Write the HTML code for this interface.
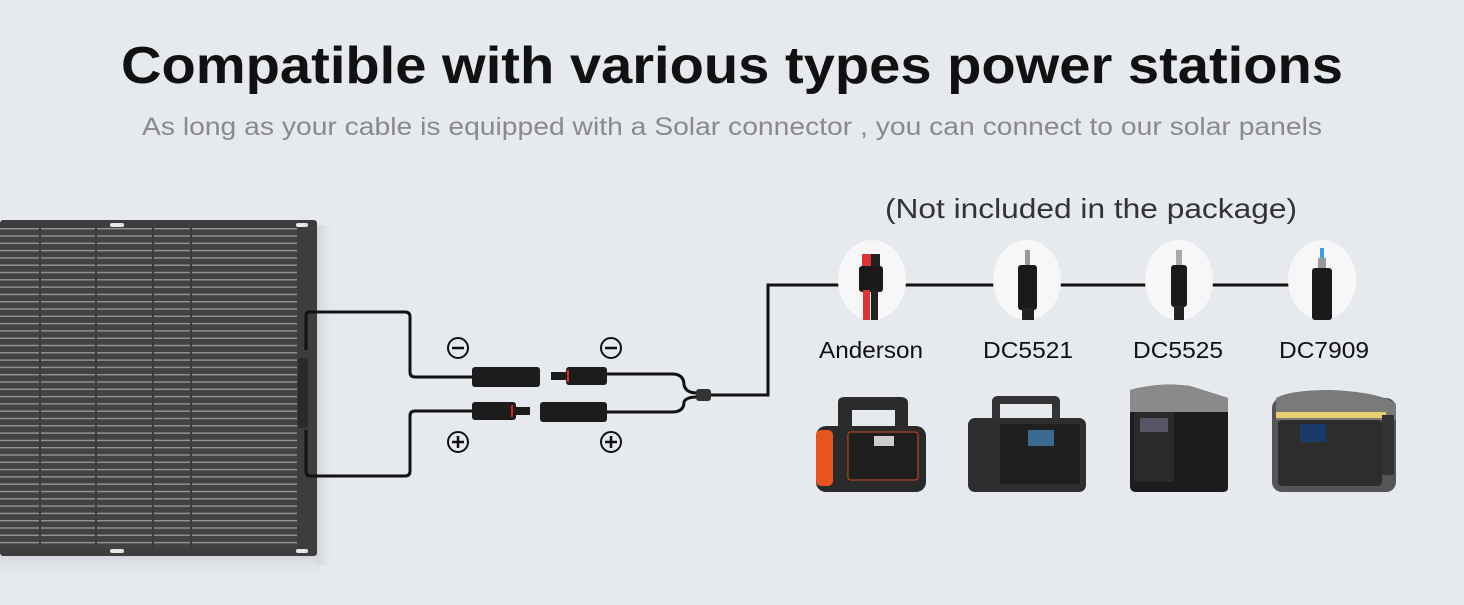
<!DOCTYPE html>
<html><head><meta charset="utf-8"><style>
body{margin:0;width:1464px;height:600px;background:#e6e9ee;overflow:hidden;font-family:"Liberation Sans",sans-serif}
</style></head><body>
<svg width="1464" height="600" viewBox="0 0 1464 600" xmlns="http://www.w3.org/2000/svg">
<defs>
<pattern id="st" x="0" y="228" width="10" height="7.3" patternUnits="userSpaceOnUse">
<rect width="10" height="7.3" fill="#424242"/><rect y="0" width="10" height="1.4" fill="#959595"/>
</pattern>
<linearGradient id="sh" x1="0" x2="1"><stop offset="0" stop-color="#cfd3d8"/><stop offset="1" stop-color="#e6e9ee" stop-opacity="0"/></linearGradient>
<linearGradient id="sb" x1="0" y1="0" x2="0" y2="1"><stop offset="0" stop-color="#d3d7dc"/><stop offset="1" stop-color="#e6e9ee" stop-opacity="0"/></linearGradient>
</defs>
<rect width="1464" height="600" fill="#e6e9ee"/>
<text x="732" y="83" text-anchor="middle" font-size="52" font-weight="bold" fill="#111" textLength="1222" lengthAdjust="spacingAndGlyphs">Compatible with various types power stations</text>
<text x="732" y="135" text-anchor="middle" font-size="25" fill="#8a8a8a" textLength="1180" lengthAdjust="spacingAndGlyphs">As long as your cable is equipped with a Solar connector , you can connect to our solar panels</text>
<text x="1091" y="218" text-anchor="middle" font-size="28" fill="#333" textLength="412" lengthAdjust="spacingAndGlyphs">(Not included in the package)</text>
<!-- panel -->
<rect x="316" y="225" width="20" height="340" fill="url(#sh)"/>
<rect x="0" y="556" width="320" height="24" fill="url(#sb)"/>
<rect x="0" y="220" width="317" height="336" rx="3" fill="#3d3d3d"/>
<rect x="0" y="228" width="297" height="320" fill="url(#st)"/>
<g stroke="#3a3a3a" stroke-width="2"><line x1="40" y1="228" x2="40" y2="548"/><line x1="96" y1="228" x2="96" y2="548"/><line x1="153" y1="228" x2="153" y2="548"/><line x1="191" y1="228" x2="191" y2="548"/></g>
<g fill="#e8e8e8"><rect x="110" y="223" width="14" height="4" rx="2"/><rect x="296" y="223" width="12" height="4" rx="2"/><rect x="110" y="549" width="14" height="4" rx="2"/><rect x="296" y="549" width="12" height="4" rx="2"/></g>
<rect x="298" y="358" width="10" height="70" rx="3" fill="#2a2a2a"/>
<!-- cables -->
<g fill="none" stroke="#111" stroke-width="3">
<path d="M306,350 V316 Q306,312 310,312 H405 Q410,312 410,317 V372 Q410,377 415,377 H472"/>
<path d="M306,430 V471 Q306,476 310,476 H405 Q410,476 410,471 V416 Q410,411 415,411 H472"/>
<path d="M607,374 H672 Q684,374 684,385 Q686,393 697,393"/>
<path d="M607,412 H672 Q684,412 684,402 Q686,397 697,397"/>
<path d="M710,395 H768 V285 H1290"/>
</g>
<!-- connectors -->
<g fill="#1c1c1c">
<rect x="472" y="367" width="68" height="20" rx="3"/>
<rect x="566" y="367" width="41" height="18" rx="3"/><rect x="551" y="372" width="16" height="8"/>
<rect x="472" y="402" width="44" height="18" rx="3"/><rect x="515" y="407" width="15" height="8"/>
<rect x="540" y="402" width="67" height="20" rx="3"/>
<rect x="696" y="389" width="15" height="12" rx="3" fill="#333"/>
</g>
<rect x="567" y="370" width="2" height="12" fill="#d22"/><rect x="511" y="405" width="2" height="12" fill="#d22"/>
<g fill="none" stroke="#111" stroke-width="2">
<circle cx="458" cy="348" r="10"/><circle cx="611" cy="348" r="10"/><circle cx="458" cy="442" r="10"/><circle cx="611" cy="442" r="10"/>
</g>
<g stroke="#111" stroke-width="2.5">
<line x1="452" y1="348" x2="464" y2="348"/><line x1="605" y1="348" x2="617" y2="348"/>
<line x1="452" y1="442" x2="464" y2="442"/><line x1="458" y1="436" x2="458" y2="448"/>
<line x1="605" y1="442" x2="617" y2="442"/><line x1="611" y1="436" x2="611" y2="448"/>
</g>
<!-- connector circles -->
<g fill="#f7f7f8">
<ellipse cx="872" cy="280" rx="34" ry="40"/><ellipse cx="1027" cy="280" rx="34" ry="40"/><ellipse cx="1179" cy="280" rx="34" ry="40"/><ellipse cx="1322" cy="280" rx="34" ry="40"/>
</g>
<rect x="862" y="254" width="9" height="14" fill="#d33"/><rect x="871" y="254" width="9" height="14" fill="#222"/>
<rect x="859" y="266" width="24" height="26" rx="3" fill="#1a1a1a"/>
<rect x="863" y="290" width="7" height="30" fill="#d33"/><rect x="871" y="290" width="7" height="30" fill="#222"/>
<rect x="1025" y="250" width="5" height="16" fill="#999"/><rect x="1018" y="265" width="19" height="45" rx="3" fill="#1a1a1a"/><rect x="1022" y="308" width="12" height="12" fill="#222"/>
<rect x="1176" y="250" width="6" height="16" fill="#aaa"/><rect x="1171" y="265" width="16" height="42" rx="3" fill="#1a1a1a"/><rect x="1174" y="305" width="10" height="15" fill="#222"/>
<rect x="1320" y="248" width="4" height="12" fill="#3aa0e0"/><rect x="1318" y="258" width="8" height="10" fill="#999"/><rect x="1312" y="268" width="20" height="52" rx="3" fill="#1a1a1a"/>
<g font-size="23" fill="#111" text-anchor="middle">
<text x="871" y="358" textLength="104" lengthAdjust="spacingAndGlyphs">Anderson</text><text x="1028" y="358" textLength="90" lengthAdjust="spacingAndGlyphs">DC5521</text><text x="1178" y="358" textLength="90" lengthAdjust="spacingAndGlyphs">DC5525</text><text x="1324" y="358" textLength="90" lengthAdjust="spacingAndGlyphs">DC7909</text>
</g>
<!-- stations -->
<rect x="816" y="426" width="110" height="66" rx="10" fill="#2a2a2a"/>
<path d="M838,430 V402 Q838,397 845,397 H900 Q908,397 908,403 V430 H895 V410 H852 V430Z" fill="#2b2b2b"/>
<rect x="816" y="430" width="17" height="56" rx="5" fill="#e8541e"/>
<rect x="848" y="432" width="70" height="48" rx="3" fill="#1e1e1e" stroke="#c94e1e" stroke-width="1"/>
<rect x="874" y="436" width="20" height="10" fill="#ccc"/>
<rect x="968" y="418" width="118" height="74" rx="7" fill="#2e2e2e"/>
<path d="M992,420 V402 Q992,396 998,396 H1054 Q1060,396 1060,402 V420 H1052 V404 H1000 V420Z" fill="#333"/>
<rect x="1000" y="424" width="80" height="60" rx="3" fill="#1f1f1f"/>
<rect x="1028" y="430" width="26" height="16" fill="#3a6a90"/>
<path d="M1130,390 Q1160,382 1190,386 L1228,398 V488 Q1228,492 1222,492 H1136 Q1130,492 1130,486Z" fill="#1c1c1c"/>
<path d="M1130,390 Q1160,382 1190,386 L1228,398 V412 H1130Z" fill="#8a8a8a"/>
<rect x="1134" y="412" width="40" height="70" rx="3" fill="#2a2a2a"/>
<rect x="1140" y="418" width="28" height="14" fill="#556"/>
<rect x="1272" y="398" width="124" height="94" rx="10" fill="#555"/>
<path d="M1276,398 Q1290,390 1330,390 Q1380,392 1396,404 V420 H1276Z" fill="#7a7a7a"/>
<rect x="1276" y="412" width="110" height="6" fill="#e8d070"/>
<rect x="1278" y="420" width="104" height="66" rx="4" fill="#2d2d2d"/>
<rect x="1300" y="424" width="26" height="18" fill="#1a3a6a"/>
<rect x="1382" y="415" width="12" height="60" fill="#333"/>
</svg>
</body></html>
